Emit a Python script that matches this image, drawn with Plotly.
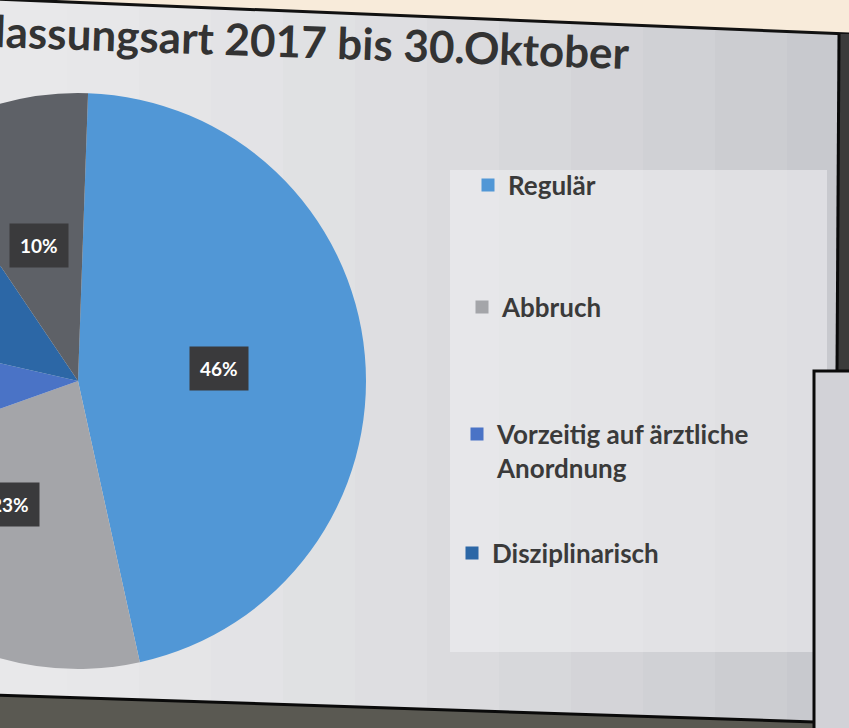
import math
import plotly.graph_objects as go

# ---- data ----
categories = ["Regulär", "Abbruch", "Vorzeitig auf ärztliche Anordnung", "Disziplinarisch", "Sonstige"]
values = [46, 23, 9, 12, 10]
colors = ["#5197d6", "#a4a5a9", "#4a73c6", "#2c67a6", "#5e6167"]
legend_labels = ["Regulär", "Abbruch", "Vorzeitig auf ärztliche<br>Anordnung", "Disziplinarisch"]
title_text = "Entlassungsart 2017 bis 30.Oktober"

# ---- geometry (pixels of the visible window) ----
S = 230            # part of the figure hidden to the left (photo crop)
W, H = 849 + S, 728
CX, CY, R = 78, 381, 288
ROT = 2


def px(x):
    return (x + S) / W


def py(y):
    return 1 - y / H


fig = go.Figure()

fig.add_trace(go.Pie(
    labels=categories, values=values, sort=False, direction="clockwise",
    rotation=ROT, marker=dict(colors=colors, line=dict(width=0)),
    textinfo="none", hoverinfo="label+percent", showlegend=False,
    domain=dict(x=[px(CX - R), px(CX + R)], y=[py(CY + R), py(CY - R)]),
))

# data labels (dark boxes) placed at the middle angle of each slice;
# labels lying completely outside the photographed area are not shown
total = sum(values)
cum = 0
annotations = []
for v in values:
    mid = math.radians(ROT + 360 * (cum + v / 2) / total)
    cum += v
    d = 0.49 * R
    lx = CX + d * math.sin(mid)
    ly = CY - d * math.cos(mid)
    if lx + 32 < 0:
        continue
    annotations.append(dict(
        x=px(lx), y=py(ly), xref="paper", yref="paper", showarrow=False,
        xanchor="center", yanchor="middle",
        text=f"{round(100 * v / total)}%", bgcolor="#3a3a3c", borderpad=10,
        font=dict(family="Lato", size=19, color="white", weight="bold"),
    ))

annotations.append(dict(
    x=px(633), y=py(40), xref="paper", yref="paper", showarrow=False,
    xanchor="right", yanchor="middle", text=title_text, textangle=2,
    font=dict(family="Lato", size=44, color="#333333", weight="bold"),
))

# legend entries (one legend per entry to reproduce the wide spacing)
legend_pos = [(468, 185), (462, 307), (457, 451), (452, 553)]
legend_names = ["legend", "legend2", "legend3", "legend4"]
for lab, col, ln in zip(legend_labels, colors[:4], legend_names):
    fig.add_trace(go.Scatter(
        x=[None], y=[None], mode="markers", name=lab, legend=ln,
        marker=dict(symbol="square", size=13, color=col),
        hoverinfo="skip",
    ))

legend_style = dict(bgcolor="rgba(0,0,0,0)", xanchor="left", yanchor="middle",
                    valign="top",
                    font=dict(family="Lato", size=26, color="#3a3a3a", weight="bold"))
layout_legends = {}
for ln, (lx, ly) in zip(legend_names, legend_pos):
    layout_legends[ln] = dict(x=px(lx), y=py(ly), **legend_style)

# photo surroundings / slide background
shapes = []
n = 12
for i in range(n):
    t = i / (n - 1)
    c0 = (232, 232, 234)
    c1 = (200, 201, 206)
    c = tuple(int(c0[k] + (c1[k] - c0[k]) * t ** 1.5) for k in range(3))
    shapes.append(dict(type="rect", xref="paper", yref="paper", layer="below",
                       x0=px(-5 + i * 72), x1=px(-5 + (i + 1) * 72 + 1), y0=0, y1=1,
                       fillcolor=f"rgb{c}", line=dict(width=0)))
# legend box
shapes.append(dict(type="rect", xref="paper", yref="paper", layer="below",
                   x0=px(450), x1=px(827), y0=py(652), y1=py(170),
                   fillcolor="rgba(244,244,246,0.5)", line=dict(width=0)))
# beige top band
shapes.append(dict(type="path", xref="paper", yref="paper", layer="below",
                   path=f"M {px(-5)},{py(-10)} L {px(860)},{py(-10)} L {px(860)},{py(35)} L {px(-5)},{py(-1)} Z",
                   fillcolor="#f8ebda", line=dict(width=0)))
shapes.append(dict(type="line", xref="paper", yref="paper", layer="below",
                   x0=px(-5), y0=py(-1), x1=px(849), y1=py(34),
                   line=dict(color="#111111", width=3)))
# dark strip right of slide
shapes.append(dict(type="path", xref="paper", yref="paper", layer="below",
                   path=f"M {px(839)},{py(34)} L {px(860)},{py(34)} L {px(860)},{py(372)} L {px(837)},{py(372)} Z",
                   fillcolor="#3b3b3b", line=dict(width=0)))
shapes.append(dict(type="line", xref="paper", yref="paper", layer="below",
                   x0=px(839), y0=py(34), x1=px(837), y1=py(372),
                   line=dict(color="#0a0a0a", width=3)))
# bottom band
shapes.append(dict(type="path", xref="paper", yref="paper", layer="below",
                   path=f"M {px(-5)},{py(695)} L {px(815)},{py(722)} L {px(815)},{py(740)} L {px(-5)},{py(740)} Z",
                   fillcolor="#5a5952", line=dict(width=0)))
shapes.append(dict(type="line", xref="paper", yref="paper", layer="below",
                   x0=px(-5), y0=py(695), x1=px(815), y1=py(722),
                   line=dict(color="#0a0a0a", width=3)))
# second slide at bottom right
shapes.append(dict(type="rect", xref="paper", yref="paper", layer="below",
                   x0=px(814), x1=px(870), y0=py(745), y1=py(371),
                   fillcolor="#d2d2d7", line=dict(color="#0a0a0a", width=3)))

fig.update_layout(
    width=W, height=H, margin=dict(l=0, r=0, t=0, b=0),
    paper_bgcolor="#dcdcdf", plot_bgcolor="rgba(0,0,0,0)",
    xaxis=dict(visible=False), yaxis=dict(visible=False),
    shapes=shapes, annotations=annotations,
    **layout_legends,
)

post = ("document.body.style.margin='0';document.body.style.overflow='hidden';"
        "var d=document.getElementById('{plot_id}');d.style.marginLeft='-" + str(S) + "px';")
fig.write_html("out.html", post_script=post, config=dict(displayModeBar=False))
